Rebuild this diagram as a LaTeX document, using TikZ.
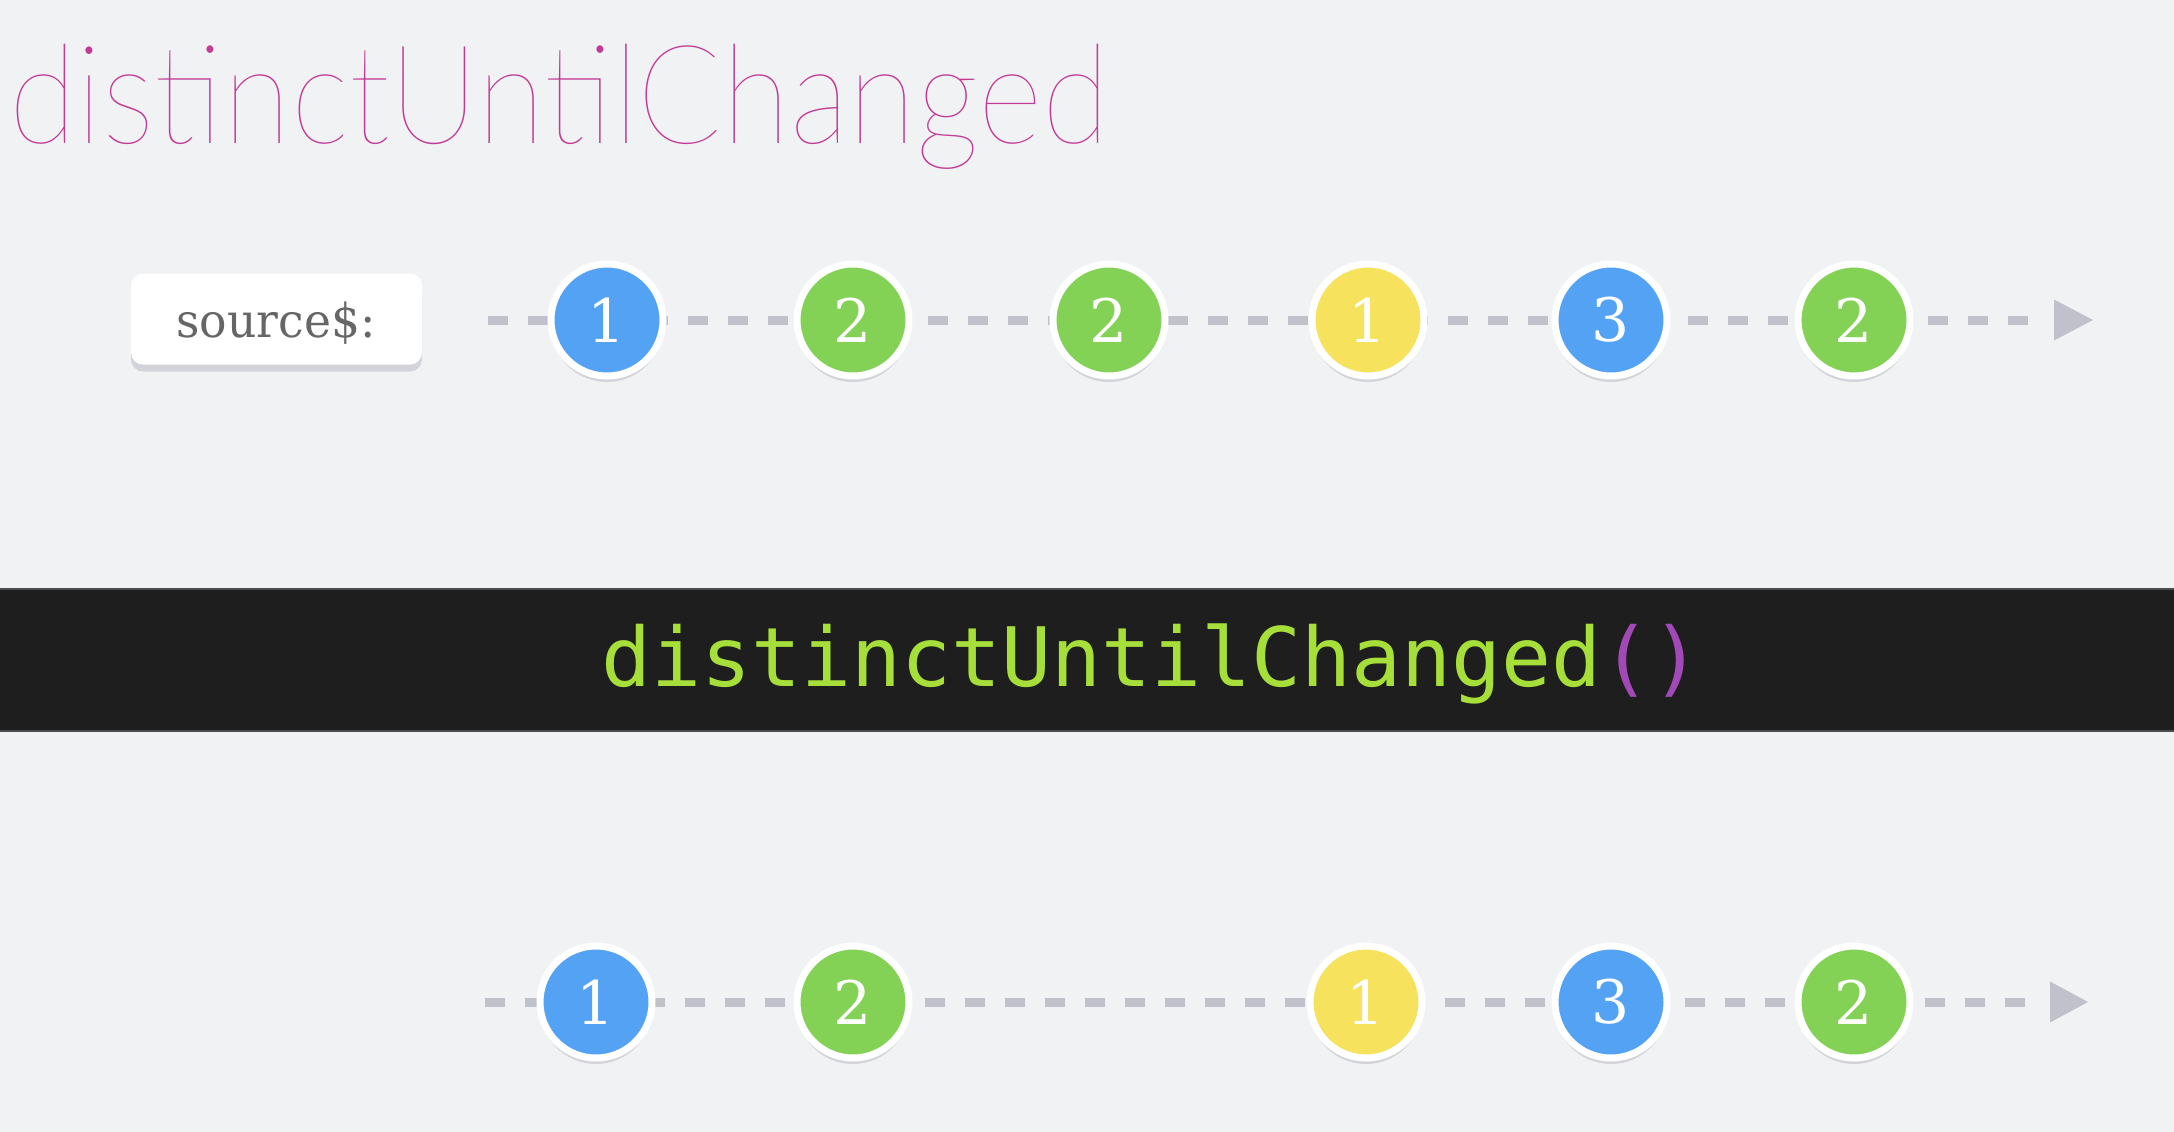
\documentclass[tikz,border=0pt]{standalone}
\usepackage{fontspec}
\usepackage{graphicx}
\newfontfamily\titlefont{Lato Thin}
\newfontfamily\codefont{DejaVu Sans Mono}
\newfontfamily\slabfont{DejaVu Serif}
\usetikzlibrary{shadows}
\definecolor{bg}{HTML}{F1F2F4}
\definecolor{titlec}{HTML}{C23B96}
\definecolor{linec}{HTML}{C0C1CB}
\definecolor{shadowc}{HTML}{D3D4DA}
\definecolor{mblue}{HTML}{53A2F3}
\definecolor{mgreen}{HTML}{83D155}
\definecolor{myellow}{HTML}{F6E25C}
\definecolor{barc}{HTML}{1E1E1E}
\definecolor{codegreen}{HTML}{A6DF3A}
\definecolor{codepurple}{HTML}{A349B7}
\definecolor{labelc}{HTML}{666666}
\tikzset{
  marble/.style={circle, minimum size=112pt, inner sep=0pt, draw=white, line width=7pt,
    fill=#1, text=white, font=\slabfont\fontsize{60}{60}\selectfont,
    drop shadow={shadow xshift=0pt, shadow yshift=-6pt, fill=shadowc, opacity=1}},
  timeline/.style={draw=linec, line width=9pt, dash pattern=on 20pt off 20pt},
  tiphead/.style={fill=linec},
  labelbox/.style={rectangle, rounded corners=12pt, fill=white, minimum width=291pt,
    minimum height=91pt, inner sep=0pt,
    drop shadow={shadow xshift=0pt, shadow yshift=-7pt, fill=shadowc, opacity=1}}
}
\begin{document}
\begin{tikzpicture}[x=1pt, y=-1pt]
\fill[bg] (0,0) rectangle (2174,1132);
\useasboundingbox (0,0) rectangle (2174,1132);
% title
\node[anchor=base west, inner sep=0pt, text=titlec] (title) at (9,143)
  {\resizebox{1100pt}{\height}{\titlefont\fontsize{138}{150}\selectfont distinctUntilChanged}};
% source label
\node[labelbox] (src) at (276.5,319) {};
\node[anchor=base, inner sep=0pt, text=labelc] (srctext) at (276,337)
  {\resizebox{199pt}{\height}{\slabfont\fontsize{47}{50}\selectfont source\$:}};
% timelines
\coordinate (s1) at (488,320);
\coordinate (e1) at (2045,320);
\coordinate (t1) at (2054,320);
\coordinate (s2) at (485,1002);
\coordinate (e2) at (2040,1002);
\coordinate (t2) at (2050,1002);
\draw[timeline] (s1) -- (e1);
\draw[timeline] (s2) -- (e2);
\fill[tiphead] (t1) ++(0,-20.5) -- ++(39,20.5) -- ++(-39,20.5) -- cycle;
\fill[tiphead] (t2) ++(0,-20.5) -- ++(38,20.5) -- ++(-38,20.5) -- cycle;
% operator bar
\fill[barc] (0,589) rectangle (2174,731);
\draw[draw=black!70, line width=2pt] (0,589) -- (2174,589) (0,731) -- (2174,731);
\node[anchor=base west, inner sep=0pt] (code) at (601,686)
  {\resizebox{1100pt}{\height}{\codefont\fontsize{82}{90}\selectfont\textcolor{codegreen}{distinctUntilChanged}\textcolor{codepurple}{()}}};
% marbles row 1
\node[marble=mblue] (a1) at (607,320) {1};
\node[marble=mgreen] (a2) at (853,320) {2};
\node[marble=mgreen] (a3) at (1109,320) {2};
\node[marble=myellow] (a4) at (1368,320) {1};
\node[marble=mblue] (a5) at (1611,320) {3};
\node[marble=mgreen] (a6) at (1854,320) {2};
% marbles row 2
\node[marble=mblue] (b1) at (596,1002) {1};
\node[marble=mgreen] (b2) at (853,1002) {2};
\node[marble=myellow] (b3) at (1366,1002) {1};
\node[marble=mblue] (b4) at (1611,1002) {3};
\node[marble=mgreen] (b5) at (1854,1002) {2};
\end{tikzpicture}
\end{document}
